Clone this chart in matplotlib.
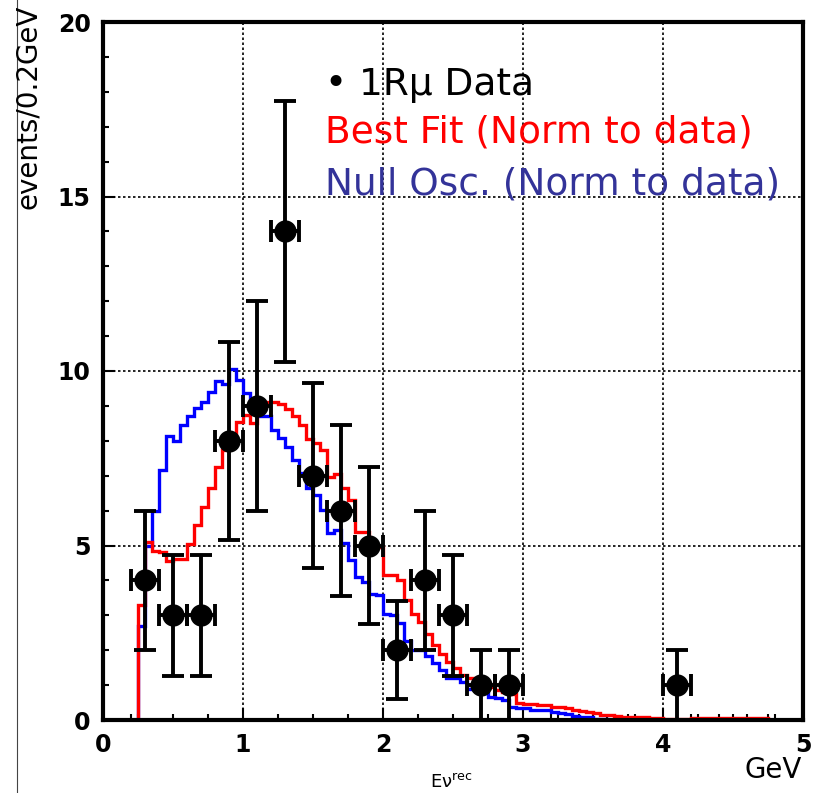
import numpy as np
import matplotlib
matplotlib.use('Agg')
import matplotlib.pyplot as plt
from matplotlib.lines import Line2D

# Datos 1Rmu
data_x = [0.3, 0.5, 0.7, 0.9, 1.1, 1.3, 1.5, 1.7, 1.9, 2.1, 2.3, 2.5, 2.7, 2.9, 4.1]
data_y = [4, 3, 3, 8, 9, 14, 7, 6, 5, 2, 4, 3, 1, 1, 1]
data_yerr = [2.0, 1.73, 1.73, 2.83, 3.0, 3.74, 2.65, 2.45, 2.24, 1.41, 2.0, 1.73, 1.0, 1.0, 1.0]
data_xerr = 0.1

# Histogramas (bins de 0.05 GeV desde 0.25)
bin_start = 0.25
bin_width = 0.05

best_fit = [
    3.3, 5.1, 4.85, 4.8, 4.55, 4.6, 4.6, 5.05, 5.6, 6.1,
    6.65, 7.25, 7.75, 8.2, 8.55, 8.75, 8.5, 9.05, 9.1, 9.1,
    9.05, 8.9, 8.7, 8.45, 8.05, 7.95, 7.75, 6.95, 7.05, 6.65,
    6.3, 5.4, 5.4, 4.95, 4.95, 4.15, 4.15, 4.0, 3.45, 3.05,
    2.8, 2.45, 2.15, 1.9, 1.65, 1.5, 1.3, 1.2, 1.15, 1.0,
    0.95, 0.85, 0.8, 0.75, 0.5, 0.47, 0.45, 0.43, 0.42, 0.38,
    0.36, 0.33, 0.28, 0.25, 0.22, 0.19, 0.15, 0.14, 0.12, 0.1,
    0.09, 0.08, 0.08, 0.07, 0.07, 0.03, 0.02, 0.03, 0.02, 0.06,
    0.06, 0.06, 0.06, 0.06, 0.06, 0.06, 0.06, 0.06, 0.06, 0.06,
]

null_osc = [
    2.7, 5.0, 6.0, 7.15, 8.15, 8.0, 8.45, 8.7, 8.95, 9.12,
    9.4, 9.72, 9.64, 10.05, 9.74, 9.36, 9.0, 8.7, 8.7, 8.3,
    8.07, 7.83, 7.45, 7.07, 6.64, 6.45, 6.02, 5.35, 5.44, 5.06,
    4.58, 4.1, 3.96, 3.6, 3.58, 3.05, 3.0, 2.77, 2.25, 2.0,
    2.0, 1.82, 1.63, 1.43, 1.19, 1.19, 1.1, 0.9, 0.9, 0.76,
    0.67, 0.62, 0.57, 0.38, 0.35, 0.33, 0.3, 0.3, 0.28, 0.22,
    0.19, 0.17, 0.12, 0.1, 0.08, 0.04, 0.02,
]

x_major = [0, 1, 2, 3, 4, 5]
y_major = [0, 5, 10, 15, 20]
x_minor = [0.2, 0.25, 0.5, 0.75, 1.25, 1.5, 1.75, 2.25, 2.5, 2.75,
           3.2, 3.25, 3.4, 3.5, 3.6, 3.75, 3.8, 4.2, 4.25, 4.4, 4.5, 4.6, 4.75, 4.8]

RED = '#ff0000'
BLUE = '#0000ff'
TEXT_BLUE = '#333399'

fig = plt.figure(figsize=(8.22, 7.93), dpi=100)
ax = fig.add_axes([103 / 822, 1 - 720 / 793, 700 / 822, 698 / 793])

edges_red = bin_start + bin_width * np.arange(len(best_fit) + 1)
edges_blue = bin_start + bin_width * np.arange(len(null_osc) + 1)

ax.stairs(null_osc, edges_blue, color=BLUE, lw=2.4, zorder=3)
ax.stairs(best_fit, edges_red, color=RED, lw=2.4, zorder=4)

ax.errorbar(data_x, data_y, xerr=data_xerr, yerr=data_yerr, fmt='o',
            color='black', ms=15, elinewidth=2.8, capsize=8, capthick=2.8,
            zorder=5, clip_on=True)

ax.set_xlim(0, 5)
ax.set_ylim(0, 20)
ax.set_xticks(x_major)
ax.set_yticks(y_major)
ax.set_xticks(x_minor, minor=True)
ax.set_yticks(np.arange(0, 21, 1), minor=True)
ax.tick_params(which='both', direction='in', top=False, right=False, width=1.5)
ax.tick_params(which='major', length=8.5, labelsize=17, pad=9)
ax.tick_params(which='minor', length=4.3)
for lab in ax.get_xticklabels() + ax.get_yticklabels():
    lab.set_fontweight('bold')

ax.grid(True, which='major', color='black', linestyle=(0, (1.5, 1.5)), lw=1.2)
ax.set_axisbelow(True)
for sp in ax.spines.values():
    sp.set_linewidth(3)
    sp.set_zorder(6)

# Etiquetas
fig.text(28 / 822, 1 - 5 / 793, 'events/0.2GeV', rotation=90, ha='center', va='top', fontsize=20)
fig.text(802 / 822, 1 - 778 / 793, 'GeV', ha='right', va='baseline', fontsize=20)
fig.text(430 / 822, 1 - 788 / 793, 'Eν$^{\\mathregular{rec}}$', ha='left', va='baseline', fontsize=13)

# Leyenda como texto
fig.text(325 / 822, 1 - 95 / 793, '• 1Rμ Data', color='black', fontsize=27, va='baseline')
fig.text(325 / 822, 1 - 143 / 793, 'Best Fit (Norm to data)', color=RED, fontsize=27, va='baseline')
fig.text(325 / 822, 1 - 195 / 793, 'Null Osc. (Norm to data)', color=TEXT_BLUE, fontsize=27, va='baseline')

# Borde izquierdo de la diapositiva
fig.add_artist(Line2D([17 / 822, 17 / 822], [0, 1], color='#444444', lw=0.8))

plt.savefig('out.png', dpi=100)
